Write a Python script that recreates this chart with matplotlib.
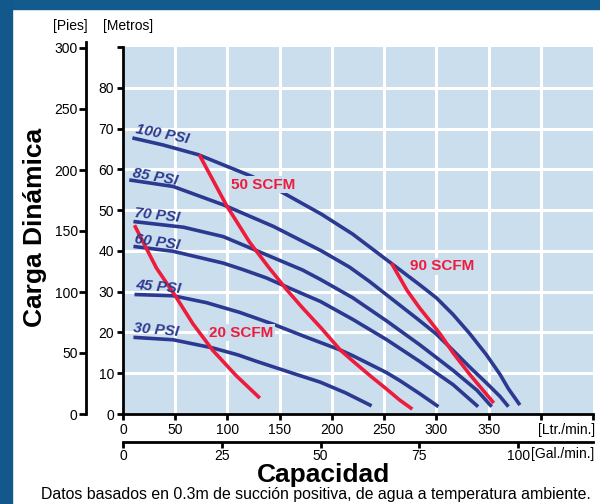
import matplotlib
matplotlib.use("Agg")
import matplotlib.pyplot as plt
from matplotlib.patches import Rectangle

plt.rcParams['font.family'] = ['Liberation Sans', 'DejaVu Sans']

# curvas de presion: caudal [Ltr./min.] y carga [m]
ltr_100 = [9, 38, 72, 96, 124, 148, 190, 220, 252, 284, 300, 316, 332, 348, 361, 369, 380]
m_100 = [67.7, 66.0, 63.6, 61.1, 58.2, 55.0, 49.0, 44.1, 37.9, 31.7, 28.5, 24.4, 19.7, 14.5, 9.7, 6.2, 2.2]
ltr_85 = [6, 48, 96, 144, 190, 217, 236, 262, 284, 300, 316, 332, 348, 361, 369]
m_85 = [57.4, 55.8, 51.3, 46.0, 40.0, 36.0, 32.5, 27.3, 22.9, 19.6, 15.6, 11.5, 7.6, 4.3, 1.8]
ltr_70 = [10, 58, 96, 134, 172, 189, 220, 252, 284, 316, 339, 353]
m_70 = [47.2, 45.8, 43.5, 39.4, 35.3, 33.0, 28.5, 22.9, 17.0, 10.7, 5.8, 1.8]
ltr_60 = [10, 48, 96, 115, 137, 160, 189, 220, 252, 284, 316, 340]
m_60 = [41.1, 39.9, 37.0, 35.4, 33.4, 30.8, 27.6, 23.2, 18.3, 12.9, 7.2, 1.8]
ltr_45 = [11, 48, 80, 112, 144, 176, 208, 220, 252, 265, 284, 302]
m_45 = [29.3, 29.0, 27.3, 24.9, 22.0, 18.8, 15.7, 14.3, 10.2, 8.2, 5.0, 1.8]
ltr_30 = [10, 48, 86, 110, 128, 166, 189, 213, 238]
m_30 = [18.8, 18.2, 16.2, 14.5, 12.9, 9.7, 7.8, 5.2, 2.0]

# curvas de consumo de aire
ltr_20 = [11, 32, 50, 67, 86, 108, 131]
m_20 = [46.3, 35.8, 29.0, 22.1, 15.6, 9.5, 3.9]
ltr_50 = [73, 99, 121, 140, 157, 172, 190, 208, 220, 237, 252, 265, 277]
m_50 = [63.6, 51.2, 42.2, 35.8, 30.4, 26.0, 21.0, 15.7, 13.0, 9.3, 6.2, 3.4, 1.2]
ltr_90 = [257, 272, 284, 294, 304, 316, 332, 355]
m_90 = [37.0, 30.3, 26.0, 22.8, 19.5, 15.0, 9.7, 2.7]

psi_curves = [(ltr_100, m_100), (ltr_85, m_85), (ltr_70, m_70),
              (ltr_60, m_60), (ltr_45, m_45), (ltr_30, m_30)]
scfm_curves = [(ltr_20, m_20), (ltr_50, m_50), (ltr_90, m_90)]

# etiquetas: texto, x, y, rotacion
psi_labels = [("100 PSI", 38, 68.5, -11), ("85 PSI", 31, 58.2, -10),
              ("70 PSI", 33, 48.6, -6), ("60 PSI", 33, 42.2, -8),
              ("45 PSI", 34, 31.2, -5), ("30 PSI", 32, 20.6, -5)]
scfm_labels = [("50 SCFM", 134, 56.2), ("20 SCFM", 113, 19.9), ("90 SCFM", 306, 36.2)]

ltr_ticks = [0, 50, 100, 150, 200, 250, 300, 350, 400, 450]
gal_ticks = [0, 25, 50, 75, 100]
m_ticks = [0, 10, 20, 30, 40, 50, 60, 70, 80, 90]
ft_ticks = [0, 50, 100, 150, 200, 250, 300]

BLUE = '#2b3990'
RED = '#ed1c3c'
BG = '#cadeed'
W, H = 600.0, 504.0

fig = plt.figure(figsize=(6, 5.04), dpi=100)
fig.patches.append(Rectangle((0, 1 - 9 / H), 1, 9 / H, transform=fig.transFigure,
                             color='#135b8c', zorder=0))
fig.patches.append(Rectangle((0, 0), 12 / W, 1, transform=fig.transFigure,
                             color='#12588a', zorder=0))

ax = fig.add_axes([123 / W, (H - 414) / H, (593 - 123) / W, (414 - 47) / H])
ax.set_facecolor(BG)
ax.set_xlim(0, 450)
ax.set_ylim(0, 90)
for s in ['top', 'right']:
    ax.spines[s].set_visible(False)
for s in ['left', 'bottom']:
    ax.spines[s].set_linewidth(2)
ax.set_xticks(ltr_ticks)
ax.set_xticklabels([str(t) if t <= 350 else '' for t in ltr_ticks])
ax.set_yticks(m_ticks)
ax.set_yticklabels([str(t) if t < 90 else '' for t in m_ticks])
ax.tick_params(width=2, length=4.5, labelsize=10, pad=2)
for v in ltr_ticks[1:-1]:
    ax.axvline(v, color='white', lw=2.2, zorder=1)
for v in m_ticks[1:-1]:
    ax.axhline(v, color='white', lw=2.2, zorder=1)

for xs, ys in psi_curves:
    ax.plot(xs, ys, color=BLUE, lw=2.6, solid_capstyle='butt', solid_joinstyle='round', zorder=3)
for xs, ys in scfm_curves:
    ax.plot(xs, ys, color=RED, lw=2.6, solid_capstyle='butt', solid_joinstyle='round', zorder=4)

for txt, x, y, rot in psi_labels:
    ax.text(x, y, txt, color=BLUE, fontsize=11, fontweight='bold', fontstyle='italic',
            rotation=rot, rotation_mode='anchor', ha='center', va='center', zorder=5)
for txt, x, y in scfm_labels:
    ax.text(x, y, txt, color=RED, fontsize=11, fontweight='bold', ha='center', va='center',
            zorder=5, bbox=dict(facecolor=BG, edgecolor='none', pad=1))

# eje en galones
gx = fig.add_axes([123 / W, (H - 442) / H, (593 - 123) / W, 0.001])
gx.patch.set_visible(False)
gx.set_xlim(0, 450 / 3.785)
for s in ['top', 'right', 'left']:
    gx.spines[s].set_visible(False)
gx.spines['bottom'].set_linewidth(2)
gx.set_yticks([])
gx.set_xticks(gal_ticks)
gx.tick_params(width=2, length=4, labelsize=10, pad=1)

# eje en pies
px = fig.add_axes([86 / W, (H - 414) / H, 0.001, (414 - 42) / H])
px.patch.set_visible(False)
px.set_ylim(0, 300 * 372 / 366.0)
for s in ['top', 'right', 'bottom']:
    px.spines[s].set_visible(False)
px.spines['left'].set_linewidth(2)
px.set_xticks([])
px.set_yticks(ft_ticks)
px.tick_params(width=2, length=5, labelsize=10, pad=1)

fig.text(70 / W, 1 - 26 / H, '[Pies]', fontsize=10, ha='center', va='center')
fig.text(128 / W, 1 - 26 / H, '[Metros]', fontsize=10, ha='center', va='center')
fig.text(595 / W, 1 - 430 / H, '[Ltr./min.]', fontsize=10, ha='right', va='center')
fig.text(594 / W, 1 - 454 / H, '[Gal./min.]', fontsize=10, ha='right', va='center')
fig.text(323 / W, 1 - 475 / H, 'Capacidad', fontsize=19, fontweight='bold',
         ha='center', va='center')
fig.text(35 / W, 1 - 227 / H, 'Carga Dinámica', fontsize=19, fontweight='bold',
         rotation=90, ha='center', va='center')
fig.text(316 / W, 1 - 494 / H,
         'Datos basados en 0.3m de succión positiva, de agua a temperatura ambiente.',
         fontsize=11.4, ha='center', va='center')

fig.savefig('out.png', dpi=100)
